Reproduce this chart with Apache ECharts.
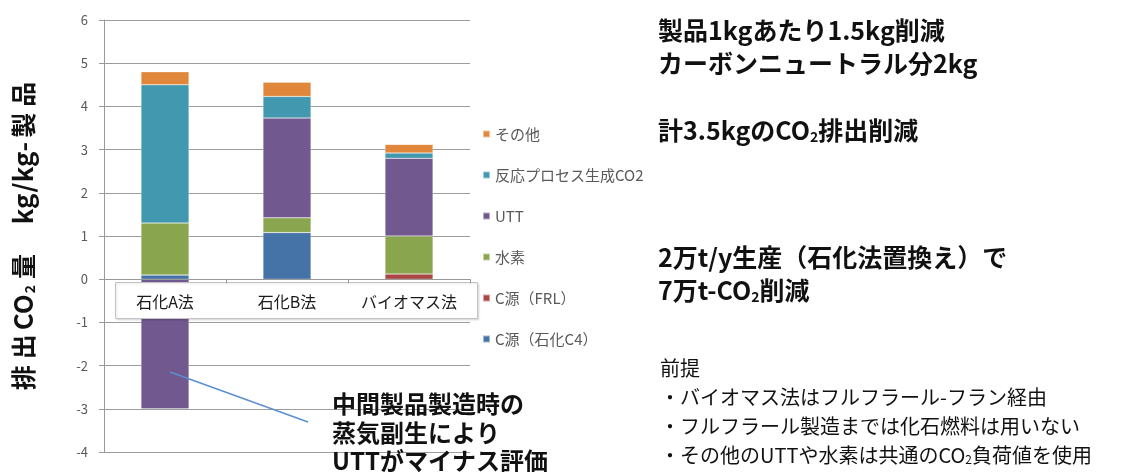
<!DOCTYPE html>
<html>
<head>
<meta charset="utf-8">
<script src="https://cdn.jsdelivr.net/npm/echarts@6/dist/echarts.min.js"></script>
<style>
  html, body { margin: 0; padding: 0; background: #fff; }
  #chart { width: 1131px; height: 472px; }
</style>
</head>
<body>
<div id="chart"></div>
<script>
// Production routes compared
const categories = ['石化A法', '石化B法', 'バイオマス法'];

// CO2 emission per kg of product, by source (kg/kg-製品)
const carbonPetro = [0.1, 1.08, 0];      // C源（石化C4）
const carbonFRL   = [0, 0, 0.12];        // C源（FRL）
const hydrogen    = [1.2, 0.34, 0.88];   // 水素
const utility     = [-3.0, 2.31, 1.8];   // UTT
const reactionCO2 = [3.2, 0.5, 0.12];    // 反応プロセス生成CO2
const others      = [0.3, 0.33, 0.2];    // その他

const seriesNames = ['C源（石化C4）', 'C源（FRL）', '水素', 'UTT', '反応プロセス生成CO2', 'その他'];
const seriesValues = [carbonPetro, carbonFRL, hydrogen, utility, reactionCO2, others];
const seriesColors = ['#4572a7', '#aa4643', '#89a54e', '#71588f', '#4198af', '#e0873c'];

const yTicks = { min: -4, max: 6, interval: 1 };

const FONT = '"Noto Sans CJK JP", "Noto Sans", sans-serif';

// Plot area (px)
const GRID = { left: 104, right: 661, top: 20, bottom: 20 };
const plotHeight = 472 - GRID.top - GRID.bottom;
// Category axis sits on the zero line: shift it up from the bottom edge
const zeroOffset = -plotHeight * (0 - yTicks.min) / (yTicks.max - yTicks.min);

const chart = echarts.init(document.getElementById('chart'));

const series = seriesNames.map((name, i) => ({
  name: name,
  type: 'bar',
  stack: 'total',
  barWidth: 48,
  data: seriesValues[i],
  itemStyle: { color: seriesColors[i], borderColor: 'rgba(255,255,255,0.5)', borderWidth: 0.5 },
  emphasis: { disabled: true }
}));

// Text blocks beside the chart
const boldLine = (text, y) => ({
  type: 'text', left: 658, top: y - 12, z: 20,
  style: {
    text: text,
    font: 'bold 25px ' + FONT,
    fill: '#111',
    rich: {
      s: { fontSize: 14, fontWeight: 'bold', fontFamily: FONT, fill: '#111', padding: [12, 0, 0, 0] }
    }
  }
});
const plainLine = (text, y) => ({
  type: 'text', left: 660, top: y - 12, z: 20,
  style: {
    text: text,
    font: '20px ' + FONT,
    fill: '#111',
    rich: {
      s: { fontSize: 12, fontFamily: FONT, fill: '#111', padding: [9, 0, 0, 0] }
    }
  }
});

// Vertical axis title: kanji slightly spaced, latin kept together
const kanjiTok = { fontSize: 25, fontWeight: 'bold', color: '#111', fontFamily: FONT, padding: [0, 3, 0, 3] };
const latinTok = { fontSize: 26, fontWeight: 'bold', color: '#111', fontFamily: FONT, padding: [0, 1, 0, 1] };

chart.setOption({
  animation: false,
  textStyle: { fontFamily: FONT },
  grid: { left: GRID.left, right: GRID.right, top: GRID.top, bottom: GRID.bottom, containLabel: false, outerBoundsMode: 'none' },
  legend: {
    orient: 'vertical',
    left: 482,
    top: 126,
    padding: 0,
    itemWidth: 7,
    itemHeight: 7,
    itemGap: 25,
    icon: 'rect',
    selectedMode: false,
    data: seriesNames.slice().reverse(),
    textStyle: { color: '#595959', fontSize: 15, lineHeight: 16, fontFamily: FONT }
  },
  xAxis: {
    type: 'category',
    data: categories,
    position: 'bottom',
    offset: zeroOffset,
    z: 10,
    axisLine: { show: true, onZero: false, lineStyle: { color: '#999', width: 1 } },
    axisTick: { show: true, length: 4, lineStyle: { color: '#999' } },
    axisLabel: { color: '#1a1a1a', fontSize: 16, margin: 15, interval: 0, hideOverlap: false, fontFamily: FONT },
    splitLine: { show: false }
  },
  yAxis: {
    type: 'value',
    min: yTicks.min,
    max: yTicks.max,
    interval: yTicks.interval,
    name: '{a|排}{a|出}{c|CO}{s|2}{a|量}{g| }{c|kg/kg-}{a|製}{a|品}',
    nameLocation: 'middle',
    nameRotate: 90,
    nameGap: 67,
    nameTextStyle: {
      rich: {
        a: kanjiTok,
        c: latinTok,
        g: { fontSize: 25, padding: [0, 10, 0, 10] },
        s: { fontSize: 14, fontWeight: 'bold', color: '#111', fontFamily: FONT, padding: [13, 3, 0, 0] }
      }
    },
    axisLine: { show: true, lineStyle: { color: '#999', width: 1 } },
    axisTick: { show: true, length: 5, lineStyle: { color: '#999' } },
    axisLabel: { color: '#595959', fontSize: 13, margin: 16, fontFamily: FONT },
    splitLine: { show: true, lineStyle: { color: '#9c9c9c', width: 1 } }
  },
  series: series,
  graphic: [
    // Framed band holding the category names
    {
      type: 'rect', z: 5,
      shape: { x: 115.5, y: 282.5, width: 362, height: 36 },
      style: { fill: '#fff', stroke: '#c4c4c4', lineWidth: 1, shadowColor: 'rgba(0,0,0,0.12)', shadowBlur: 2, shadowOffsetX: 1, shadowOffsetY: 1 }
    },
    // Callout pointing at the negative UTT bar
    {
      type: 'line', z: 20,
      shape: { x1: 170, y1: 372, x2: 308, y2: 422 },
      style: { stroke: '#5b8fcf', lineWidth: 1.5 }
    },
    {
      type: 'text', left: 332, top: 390, z: 20,
      style: {
        text: '中間製品製造時の\n蒸気副生により\nUTTがマイナス評価',
        font: 'bold 24px ' + FONT,
        lineHeight: 28.5,
        fill: '#111'
      }
    },
    boldLine('製品1kgあたり1.5kg削減', 30),
    boldLine('カーボンニュートラル分2kg', 63),
    boldLine('計3.5kgのCO{s|2}排出削減', 130),
    boldLine('2万t/y生産（石化法置換え）で', 257),
    boldLine('7万t-CO{s|2}削減', 290),
    plainLine('前提', 370),
    plainLine('・バイオマス法はフルフラール-フラン経由', 399),
    plainLine('・フルフラール製造までは化石燃料は用いない', 428),
    plainLine('・その他のUTTや水素は共通のCO{s|2}負荷値を使用', 457)
  ]
});
</script>
</body>
</html>
